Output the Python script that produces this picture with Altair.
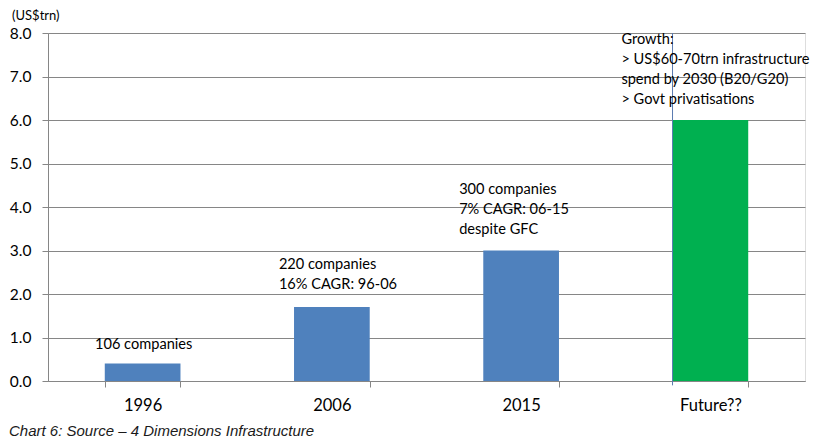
import altair as alt
import pandas as pd

# ---- data ----
categories = ["1996", "2006", "2015", "Future??"]
values = [0.4, 1.7, 3.0, 6.0]
bar_colors = ["#4F81BD", "#4F81BD", "#4F81BD", "#00B050"]

ann_1996 = ["106 companies"]
ann_2006 = ["220 companies", "16% CAGR: 96-06"]
ann_2015 = ["300 companies", "7% CAGR: 06-15", "despite GFC"]
ann_future = ["Growth:", "> US$60-70trn infrastructure", "spend by 2030 (B20/G20)", "> Govt privatisations"]
ann_top = [1.01, 2.85, 4.57, 8.02]   # value-space top of each annotation block

divider_category = "Future??"
divider_top, divider_bottom = 8.0, -0.1

y_title = "(US$trn)"
caption = "Chart 6: Source \u2013 4 Dimensions Infrastructure"

FONT = "Lato"
GRID = "#868686"

bars_df = pd.DataFrame({"cat": categories, "val": values, "color": bar_colors})

x_enc = alt.X(
    "cat:N",
    sort=categories,
    scale=alt.Scale(domain=categories, paddingInner=0.6, paddingOuter=0.3),
    axis=alt.Axis(
        title=None, labelAngle=0, labelFont=FONT, labelFontSize=16.5, labelColor="#000000",
        labelPadding=10, tickBand="extent", tickSize=6, tickColor=GRID, domainColor=GRID,
        grid=False,
    ),
)
y_scale = alt.Scale(domain=[0, 8], nice=False)

bars = alt.Chart(bars_df).mark_bar().encode(
    x=x_enc,
    y=alt.Y(
        "val:Q",
        scale=y_scale,
        axis=alt.Axis(
            title=None, values=[0, 1, 2, 3, 4, 5, 6, 7, 8], format=".1f", labelFont=FONT,
            labelFontSize=15.5, labelColor="#000000", labelPadding=11, tickSize=6,
            tickColor=GRID, domainColor=GRID, gridColor=GRID, grid=True,
        ),
    ),
    color=alt.Color("color:N", scale=None),
)

div_df = pd.DataFrame({"cat": [divider_category], "y": [divider_top], "y2": [divider_bottom]})
divider = alt.Chart(div_df).mark_rule(color="#5A7AB0", strokeWidth=1).encode(
    x=alt.X("cat:N", sort=categories, bandPosition=0, scale=alt.Scale(domain=categories)),
    y=alt.Y("y:Q", scale=y_scale),
    y2="y2:Q",
)


def annotation(cat, lines, top, align, dx):
    df = pd.DataFrame({"cat": [cat], "y": [top], "txt": [lines]})
    return alt.Chart(df).mark_text(
        align=align, baseline="top", dx=dx, font=FONT, fontSize=14.6, lineHeight=20, color="#000000"
    ).encode(
        x=alt.X("cat:N", sort=categories, scale=alt.Scale(domain=categories)),
        y=alt.Y("y:Q", scale=y_scale),
        text="txt",
    )


a1 = annotation(categories[0], ann_1996, ann_top[0], "center", 1)
a2 = annotation(categories[1], ann_2006, ann_top[1], "left", -53)
a3 = annotation(categories[2], ann_2015, ann_top[2], "left", -62)
a4 = annotation(categories[3], ann_future, ann_top[3], "left", -89)

title_df = pd.DataFrame({"t": [y_title]})
title_txt = alt.Chart(title_df).mark_text(
    align="left", baseline="middle", font=FONT, fontSize=13, color="#000000"
).encode(x=alt.value(-36), y=alt.value(-17.2), text="t")

cap_df = pd.DataFrame({"t": [caption]})
cap_txt = alt.Chart(cap_df).mark_text(
    align="left", baseline="middle", font="Liberation Sans", fontStyle="italic",
    fontSize=15, color="#1a1a1a"
).encode(x=alt.value(-39), y=alt.value(398), text="t")

chart = alt.layer(bars, divider, a1, a2, a3, a4, title_txt, cap_txt).properties(
    width=757, height=348,
    autosize=alt.AutoSizeParams(type="none"),
    padding={"left": 40, "top": 25, "right": 12, "bottom": 62},
).configure_view(stroke=None).configure(background="white")

chart.save("out.html", embed_options={"renderer": "svg", "actions": False})
